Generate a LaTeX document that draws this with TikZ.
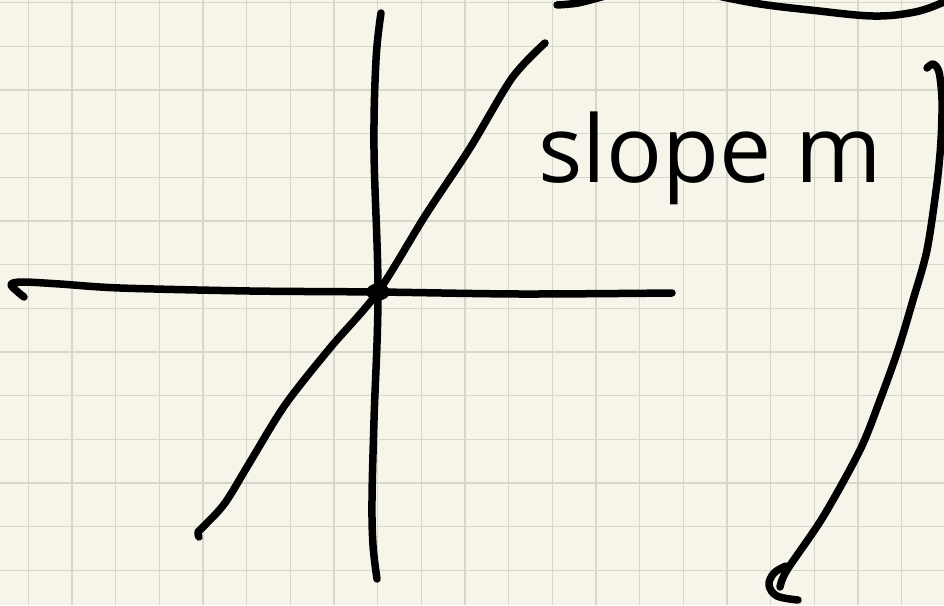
\documentclass[tikz,border=0pt]{standalone}
\usepackage{fontspec}
\newfontfamily\handfont{Open Sans}
\usepackage{xcolor}
\usepackage{tikz}
\usetikzlibrary{calc}
\definecolor{paper}{HTML}{F7F5E9}
\definecolor{gridline}{HTML}{D6D7CB}
\tikzstyle{ink} = [line width=7.5pt, line cap=round, line join=round, black]
\tikzstyle{handlabel} = [font=\handfont\fontsize{93}{93}\selectfont, inner sep=0pt, anchor=base west]

\begin{document}
\begin{tikzpicture}[x=1pt, y=-1pt]
    % Paper and grid
    \fill[paper] (0,0) rectangle (944,605);
    \useasboundingbox (0,0) rectangle (944,605);
    \clip (0,0) rectangle (944,605);
    \foreach \gx in {28.3,71.97,...,944} {
        \draw[gridline, line width=1.5pt] (\gx,0) -- (\gx,605);
    }
    \foreach \gy in {2.7,46.37,...,605} {
        \draw[gridline, line width=1.5pt] (0,\gy) -- (944,\gy);
    }

    % Origin
    \coordinate (origin) at (378,292);

    % Axes
    \draw[ink] plot[smooth, tension=0.5] coordinates {(24,297) (11,285) (22,282) (60,284) (120,288) (250,291) (origin) (520,294) (672,293)};
    \draw[ink] plot[smooth, tension=0.6] coordinates {(381,13) (376,60) (374,150) (origin) (374,420) (372,500) (373,545) (377,579)};

    % Line through origin
    \draw[ink] plot[smooth, tension=0.5] coordinates {(545,43) (512,78) (470,148) (425,216) (origin) (330,348) (285,405) (250,462) (225,503) (204,526) (198,532) (199,537)};
    \fill[black] (origin) ellipse [x radius=12pt, y radius=8.5pt];

    % Label
    \node (slope) [handlabel] at (538,182) {slope m};

    % Brackets
    \draw[ink] plot[smooth, tension=0.5] coordinates {(557,5) (578,3) (605,-4)};
    \draw[ink] plot[smooth, tension=0.6] coordinates {(718,-4) (760,4) (810,10) (873,16) (915,12) (944,2) (952,-3)};
    \draw[ink] plot[smooth, tension=0.5] coordinates {(927,68) (933,64) (939,72) (942,100) (941,140) (937,183) (927,250) (913,300) (898,350) (880,400) (860,450) (823,517) (787,570) (780,587)};
    \draw[ink] plot[smooth, tension=0.6] coordinates {(786,566) (774,573) (769,585) (777,596) (798,600)};
\end{tikzpicture}
\end{document}
